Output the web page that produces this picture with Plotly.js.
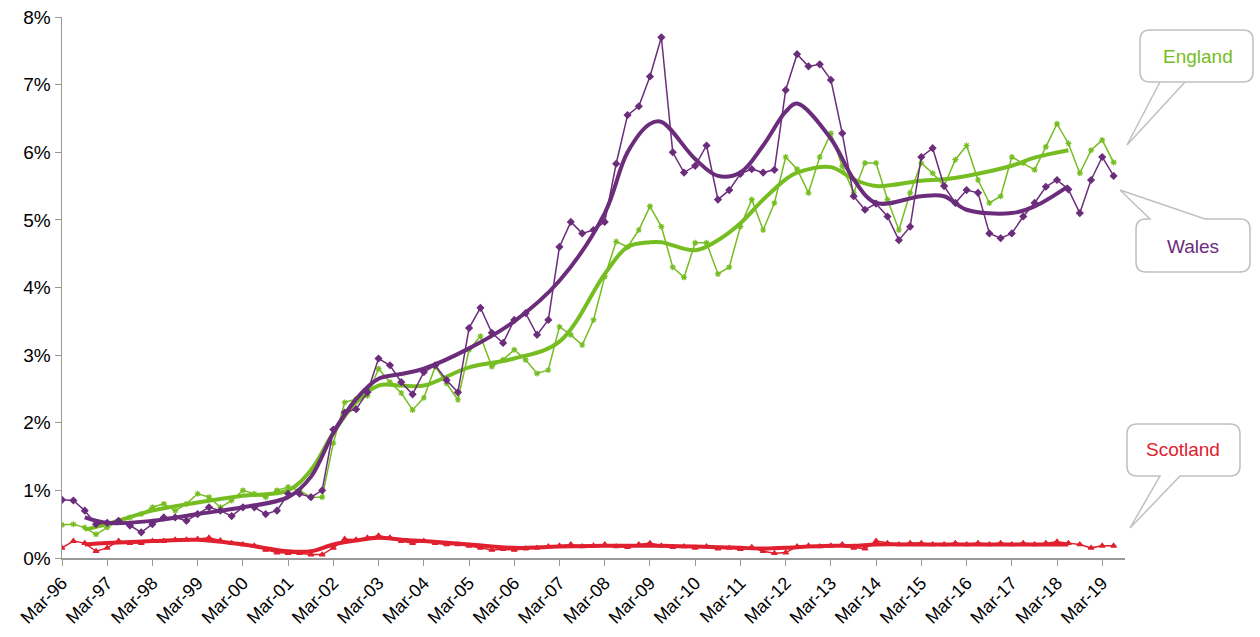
<!DOCTYPE html>
<html>
<head>
<meta charset="utf-8">
<script src="https://cdn.plot.ly/plotly-3.0.1.min.js"></script>
<style>body{margin:0;background:#fff}#chart{width:1260px;height:637px}</style>
</head>
<body>
<div id="chart"></div>
<script>
// quarterly readings, Mar-96 .. Jun-19 (percent)
var wales = [
  0.86,0.85,0.7,0.5, 0.52,0.55,0.48,0.38, 0.5,0.6,0.6,0.55, 0.65,0.75,0.7,0.62,
  0.75,0.75,0.65,0.7, 0.95,0.95,0.9,1.0, 1.9,2.15,2.2,2.45, 2.95,2.85,2.6,2.42,
  2.75,2.85,2.63,2.45, 3.4,3.7,3.33,3.18, 3.52,3.62,3.3,3.52, 4.6,4.97,4.8,4.85,
  4.97,5.83,6.55,6.68, 7.12,7.7,6.0,5.7, 5.8,6.1,5.3,5.44, 5.68,5.75,5.7,5.74,
  6.92,7.45,7.27,7.3, 7.07,6.28,5.35,5.15, 5.24,5.05,4.7,4.9, 5.93,6.06,5.5,5.25,
  5.44,5.4,4.8,4.73, 4.8,5.05,5.25,5.49, 5.59,5.45,5.1,5.59, 5.93,5.65
];
var england = [
  0.49,0.5,0.45,0.35, 0.45,0.55,0.6,0.65, 0.75,0.8,0.7,0.8, 0.95,0.9,0.75,0.85,
  1.0,0.95,0.9,1.0, 1.05,1.0,0.9,0.9, 1.7,2.3,2.35,2.4, 2.8,2.6,2.44,2.19,
  2.37,2.83,2.58,2.34, 3.08,3.28,2.83,2.93, 3.08,2.93,2.73,2.78, 3.42,3.3,3.15,3.52,
  4.16,4.68,4.6,4.85, 5.2,4.9,4.3,4.15, 4.66,4.66,4.2,4.3, 4.9,5.3,4.85,5.25,
  5.93,5.75,5.4,5.93, 6.28,5.79,5.4,5.84, 5.84,5.3,4.85,5.4, 5.84,5.69,5.5,5.89,
  6.1,5.59,5.25,5.35, 5.93,5.84,5.74,6.08, 6.42,6.13,5.69,6.03, 6.18,5.85
];
var scotland = [
  0.15,0.25,0.22,0.1, 0.15,0.25,0.22,0.22, 0.25,0.25,0.27,0.27, 0.28,0.3,0.26,0.22,
  0.2,0.18,0.12,0.08, 0.07,0.07,0.05,0.05, 0.15,0.28,0.27,0.3, 0.33,0.3,0.25,0.22,
  0.25,0.22,0.2,0.2, 0.18,0.15,0.12,0.13, 0.12,0.14,0.15,0.17, 0.18,0.2,0.17,0.18,
  0.2,0.17,0.16,0.2, 0.22,0.18,0.16,0.17, 0.15,0.17,0.14,0.15, 0.13,0.16,0.1,0.07,
  0.08,0.17,0.18,0.17, 0.18,0.2,0.15,0.14, 0.25,0.22,0.2,0.22, 0.22,0.2,0.2,0.22,
  0.2,0.22,0.2,0.22, 0.2,0.22,0.2,0.22, 0.24,0.22,0.2,0.15, 0.18,0.18
];

// smoothed trend readings
var trendDates = ["1996-09-01","1997-03-01","1998-03-01","1999-03-01","2000-03-01","2001-03-01",
  "2001-09-01","2002-03-01","2002-09-01","2003-03-01","2003-09-01","2004-03-01","2005-03-01",
  "2006-03-01","2007-03-01","2008-03-01","2008-09-01","2009-03-01","2009-06-01","2010-03-01",
  "2010-09-01","2011-03-01","2011-09-01","2012-03-01","2012-06-01","2013-03-01","2013-09-01",
  "2014-03-01","2015-03-01","2015-09-01","2016-03-01","2017-03-01","2017-09-01","2018-06-01"];
var walesTrend = [0.6,0.52,0.55,0.65,0.75,0.9,1.2,1.85,2.35,2.65,2.72,2.8,3.1,3.5,4.1,5.1,6.0,
  6.42,6.45,5.9,5.65,5.7,6.1,6.6,6.72,6.2,5.6,5.25,5.35,5.35,5.15,5.1,5.2,5.5];
var englandTrend = [0.42,0.5,0.7,0.82,0.92,1.0,1.3,1.85,2.3,2.55,2.55,2.55,2.82,2.95,3.2,4.2,4.6,
  4.67,4.67,4.55,4.7,4.95,5.3,5.6,5.7,5.78,5.6,5.5,5.58,5.6,5.65,5.8,5.92,6.03];
var scotlandTrend = [0.2,0.22,0.25,0.27,0.2,0.1,0.1,0.2,0.26,0.3,0.27,0.25,0.2,0.15,0.17,0.18,0.18,
  0.18,0.18,0.17,0.16,0.15,0.14,0.15,0.16,0.18,0.18,0.2,0.2,0.2,0.2,0.2,0.2,0.2];

var GREEN = "#76bd22", PURPLE = "#6b2d7b", RED = "#e0202e";

var dates = [];
for (var i = 0; i < wales.length; i++) {
  var m = 2 + 3 * i;
  var y = 1996 + Math.floor(m / 12);
  var mm = (m % 12) + 1;
  dates.push(y + "-" + (mm < 10 ? "0" : "") + mm + "-01");
}

var tickvals = [], ticktext = [];
for (var yr = 1996; yr <= 2019; yr++) {
  tickvals.push(yr + "-03-01");
  ticktext.push("Mar-" + String(yr).slice(2));
}

function raw(y, color, symbol) {
  return {x: dates, y: y, mode: "lines+markers", line: {color: color, width: 1.5},
    marker: {color: color, symbol: symbol, size: 5, line: {color: color, width: 1.2}},
    hoverinfo: "skip"};
}
function trend(y, color) {
  return {x: trendDates, y: y, mode: "lines", line: {color: color, width: 4, shape: "spline", smoothing: 1},
    hoverinfo: "skip"};
}

var data = [
  raw(scotland, RED, "triangle-up"),
  trend(scotlandTrend, RED),
  raw(england, GREEN, "asterisk-open"),
  trend(englandTrend, GREEN),
  raw(wales, PURPLE, "diamond"),
  trend(walesTrend, PURPLE)
];

// pixel -> paper helpers for callouts (plot area 62..1125 x 17..558)
function px(v) { return (v - 62) / 1063; }
function py(v) { return (558 - v) / 541; }
function callout(x0, y0, x1, y1, tip, base, fromTop) {
  var r = 10, p = "M" + px(x0 + r) + "," + py(y0);
  if (fromTop) {
    p += " L" + px(base[0]) + "," + py(y0) + " L" + px(tip[0]) + "," + py(tip[1]) +
         " L" + px(base[1]) + "," + py(y0);
  }
  p += " L" + px(x1 - r) + "," + py(y0) +
       " Q" + px(x1) + "," + py(y0) + " " + px(x1) + "," + py(y0 + r) +
       " L" + px(x1) + "," + py(y1 - r) +
       " Q" + px(x1) + "," + py(y1) + " " + px(x1 - r) + "," + py(y1);
  if (!fromTop) {
    p += " L" + px(base[1]) + "," + py(y1) + " L" + px(tip[0]) + "," + py(tip[1]) +
         " L" + px(base[0]) + "," + py(y1);
  }
  p += " L" + px(x0 + r) + "," + py(y1) +
       " Q" + px(x0) + "," + py(y1) + " " + px(x0) + "," + py(y1 - r) +
       " L" + px(x0) + "," + py(y0 + r) +
       " Q" + px(x0) + "," + py(y0) + " " + px(x0 + r) + "," + py(y0) + " Z";
  return {type: "path", xref: "paper", yref: "paper", path: p,
    line: {color: "#c0c0c0", width: 1.5}, fillcolor: "#ffffff"};
}
function label(x, y, text, color) {
  return {xref: "paper", yref: "paper", x: px(x), y: py(y), xanchor: "center", yanchor: "middle",
    text: text, showarrow: false, font: {color: color, size: 19}};
}

var layout = {
  width: 1260, height: 637,
  margin: {l: 62, r: 135, t: 17, b: 79},
  showlegend: false,
  paper_bgcolor: "#fff", plot_bgcolor: "#fff",
  font: {family: "Liberation Sans, Arial, sans-serif", size: 19, color: "#000"},
  xaxis: {type: "date", range: ["1996-03-01", "2019-09-01"], tickvals: tickvals, ticktext: ticktext,
    tickangle: -45, showgrid: false, zeroline: false, showline: true, linecolor: "#999", linewidth: 1.5,
    ticks: "outside", ticklen: 6, tickcolor: "#999", tickfont: {size: 18}},
  yaxis: {range: [0, 8], dtick: 1, ticksuffix: "%", showgrid: false, zeroline: false, showline: true,
    linecolor: "#999", linewidth: 1.5, ticks: "outside", ticklen: 6, tickcolor: "#999", tickfont: {size: 19}},
  shapes: [
    callout(1140, 30, 1253, 82, [1127, 145], [1185, 1160], false),
    callout(1136, 219, 1250, 272, [1120, 190], [1150, 1205], true),
    callout(1127, 424, 1240, 476, [1130, 528], [1160, 1180], false)
  ],
  annotations: [
    label(1198, 56, "England", GREEN),
    label(1193, 246, "Wales", PURPLE),
    label(1183, 449, "Scotland", RED)
  ]
};

Plotly.newPlot("chart", data, layout, {displayModeBar: false, staticPlot: true});
</script>
</body>
</html>
